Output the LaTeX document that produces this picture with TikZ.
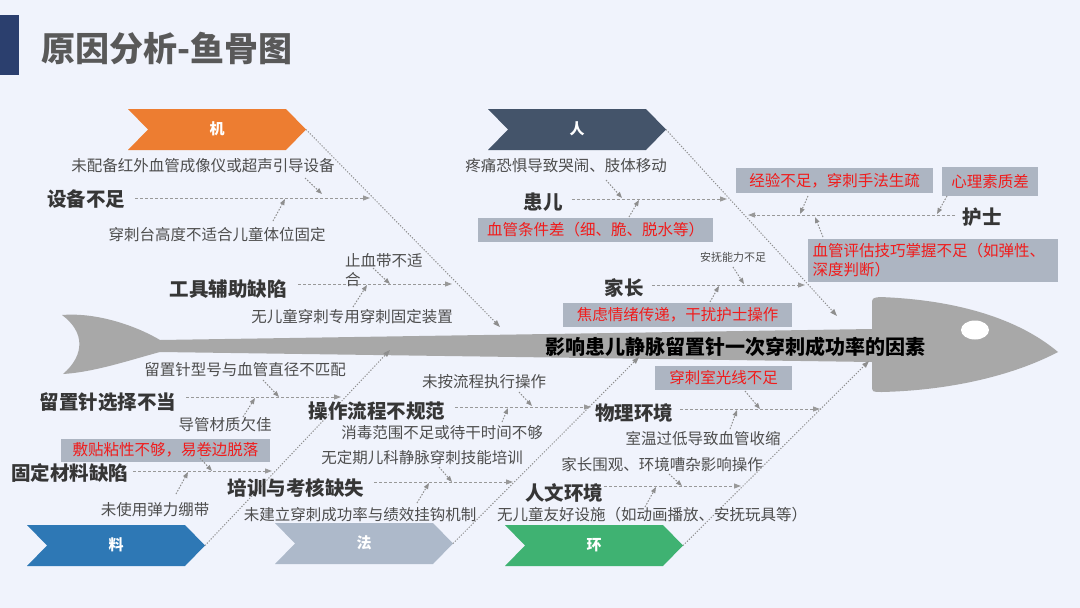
\documentclass[tikz,border=0pt]{standalone}
\usepackage{fontspec}
\setmainfont{Noto Sans CJK SC}
\usetikzlibrary{arrows.meta}
\definecolor{bg}{HTML}{F0F3FC}
\definecolor{txt}{HTML}{4D4D4D}
\definecolor{dark}{HTML}{363636}
\definecolor{fishgray}{HTML}{A8A8A8}
\definecolor{linegray}{HTML}{8E8E8E}
\definecolor{boxgray}{HTML}{ADB5C2}
\definecolor{redtxt}{HTML}{F01C1C}
\definecolor{navy}{HTML}{2B3F6E}
\definecolor{titlegray}{HTML}{595959}
\definecolor{cOrange}{HTML}{ED7D31}
\definecolor{cSlate}{HTML}{44546A}
\definecolor{cBlue}{HTML}{2E78B5}
\definecolor{cGrayBlue}{HTML}{ADB9CA}
\definecolor{cGreen}{HTML}{3FB272}
\newcommand\chev[5]{%
  \fill[#4] (#2,#3) -- ({#2+158},#3) -- ({#2+178},{#3+20.5}) -- ({#2+158},{#3+41}) -- (#2,{#3+41}) -- ({#2+20},{#3+20.5}) -- cycle;
  \node[chevtxt] (#1) at ({#2+89},{#3+20}) {#5};
  \coordinate (#1tip) at ({#2+178},{#3+20.5});}
\newcommand\tarrow[3]{%
  \coordinate (#1s) at (#2); \coordinate (#1e) at (#3);
  \draw[tinyarr] (#1s) -- (#1e);}
\newcommand\subline[3]{%
  \coordinate (#1s) at (#2); \coordinate (#1e) at (#3);
  \draw[subarr] (#1s) -- (#1e);}
\begin{document}
\begin{tikzpicture}[x=1pt,y=-1pt,
  chevtxt/.style={text=white,font=\bfseries\fontsize{15}{17}\selectfont,inner sep=0pt},
  cause/.style={text=txt,font=\fontsize{15.5}{19}\selectfont,inner sep=1pt},
  smallcause/.style={text=txt,font=\fontsize{11}{13}\selectfont,inner sep=1pt},
  cat/.style={text=dark,font=\bfseries\fontsize{19.5}{22}\selectfont,inner sep=1pt},
  redbox/.style={fill=boxgray,text=redtxt,font=\fontsize{15.5}{19}\selectfont,inner sep=0pt},
  bone/.style={draw=linegray,line width=1pt,dash pattern=on 1.2pt off 1.6pt,-{Triangle[length=7pt,width=5pt]}},
  subarr/.style={draw=linegray!90,line width=1pt,dash pattern=on 3pt off 2pt,-{Triangle[length=7pt,width=5pt]}},
  tinyarr/.style={draw=linegray,line width=1pt,dash pattern=on 1.5pt off 1.5pt,-{Triangle[length=6pt,width=4.5pt]}}]
\useasboundingbox (0,0) rectangle (1080,608);
\fill[bg] (0,0) rectangle (1080,608);
% title
\fill[navy] (0,15) rectangle (19,75);
\node[anchor=west,text=titlegray,font=\bfseries\fontsize{34}{38}\selectfont,inner sep=0pt] (title) at (41,48) {原因分析-鱼骨图};
% fish
\fill[fishgray] (62,315) .. controls (100,312) and (140,328) .. (160,340)
  -- (872,329) -- (872,305) .. controls (872,298) .. (880,297)
  .. controls (960,300) and (1020,320) .. (1058,352)
  .. controls (1020,372) and (960,390) .. (882,392)
  .. controls (872,392) .. (872,385) -- (872,362)
  -- (160,352) .. controls (130,360) and (95,372) .. (63,374)
  .. controls (85,355) and (85,332) .. (62,315) -- cycle;
\fill[white] (975,330) ellipse [x radius=14pt, y radius=9.5pt];
\node[text=black,font=\bfseries\fontsize{20}{22}\selectfont,inner sep=0pt] (effect) at (735,347) {影响患儿静脉留置针一次穿刺成功率的因素};
% chevrons
\chev{ji}{128}{109}{cOrange}{机}
\chev{ren}{488}{109}{cSlate}{人}
\chev{liao}{27}{525}{cBlue}{料}
\chev{fa}{275}{523}{cGrayBlue}{法}
\chev{huan}{505}{525}{cGreen}{环}
% main bones
\coordinate (jiE) at (500,327);
\coordinate (renE) at (837,316);
\coordinate (liaoE) at (390,350);
\coordinate (faE) at (639,357);
\coordinate (huanE) at (869,361);
\draw[bone] (jitip) -- (jiE);
\draw[bone] (rentip) -- (renE);
\draw[bone] (liaotip) -- (liaoE);
\draw[bone] (fatip) -- (faE);
\draw[bone] (huantip) -- (huanE);
% ---- 机
\node[cat] (sbbz) at (86,199) {设备不足};
\subline{l1}{135,198}{370,198}
\node[cause] (t1) at (203,166) {未配备红外血管成像仪或超声引导设备};
\tarrow{a1}{305,178}{322,194}
\node[cause] (t2) at (217,235) {穿刺台高度不适合儿童体位固定};
\tarrow{a2}{273,221}{285,199}
\node[cat] (gjfz) at (228,289) {工具辅助缺陷};
\subline{l2}{298,284}{452,284}
\node[cause,anchor=west,align=left] (t3) at (344,270.5) {止血带不适\\合};
\tarrow{a3}{373,268}{390,284}
\node[cause] (t4) at (352,317) {无儿童穿刺专用穿刺固定装置};
\tarrow{a4}{353,307}{367,285}
% ---- 人
\node[cat] (huaner) at (543,202) {患儿};
\subline{l3}{572,199}{727,199}
\node[cause] (t5) at (566,166) {疼痛恐惧导致哭闹、肢体移动};
\tarrow{a5}{606,180}{622,198}
\node[redbox,minimum width=235pt,minimum height=24pt] (r1) at (595.5,230) {血管条件差（细、脆、脱水等）};
\tarrow{a6}{629,217}{639,200}
\node[cat] (hushi) at (982,217) {护士};
\subline{l4}{955,215}{748,215}
\node[redbox,minimum width=197pt,minimum height=25pt] (r2) at (834.5,180.5) {经验不足，穿刺手法生疏};
\tarrow{a7}{808,196}{800,214}
\node[redbox,minimum width=96pt,minimum height=29pt] (r3) at (990,181.5) {心理素质差};
\tarrow{a8}{947,196}{937,214}
\node[redbox,minimum width=250pt,minimum height=43pt,text width=241pt,align=left] (r4) at (933,260.5) {血管评估技巧掌握不足（如弹性、\\深度判断）};
\tarrow{a9}{823,237}{815,217}
\node[cat] (jiazhang) at (624,288) {家长};
\subline{l5}{652,285}{805,285}
\node[smallcause] (t6) at (733,257) {安抚能力不足};
\tarrow{a10}{733,267}{744,284}
\node[redbox,minimum width=229pt,minimum height=24pt] (r5) at (677.5,315) {焦虑情绪传递，干扰护士操作};
\tarrow{a11}{710,302}{719,286}
% ---- 料
\node[cat] (lzz) at (108,402) {留置针选择不当};
\subline{l6}{186,397}{341,397}
\node[cause] (t7) at (245,370) {留置针型号与血管直径不匹配};
\tarrow{a12}{263,380}{279,397}
\node[cause] (t8) at (225,425) {导管材质欠佳};
\tarrow{a13}{243,417}{255,398}
\node[redbox,minimum width=209pt,minimum height=23pt] (r6) at (165.5,450) {敷贴粘性不够，易卷边脱落};
\node[cat] (gdcl) at (70,473) {固定材料缺陷};
\subline{l7}{133,471}{272,471}
\tarrow{a14}{200,458}{212,471}
\node[cause] (t9) at (155,510) {未使用弹力绷带};
\tarrow{a15}{176,494}{188,472}
% ---- 法
\node[cat] (czlc) at (377,411) {操作流程不规范};
\subline{l8}{455,407}{591,407}
\node[cause] (t10) at (484,382) {未按流程执行操作};
\tarrow{a16}{519,392}{532,406}
\node[cause] (t11) at (442,433) {消毒范围不足或待干时间不够};
\tarrow{a17}{502,422}{508,408}
\node[cat] (pxkh) at (296,488) {培训与考核缺失};
\subline{l9}{374,482}{513,482}
\node[cause] (t12) at (422,458) {无定期儿科静脉穿刺技能培训};
\tarrow{a18}{439,467}{452,482}
\node[cause] (t13) at (360,515) {未建立穿刺成功率与绩效挂钩机制};
\tarrow{a19}{417,503}{429,483}
% ---- 环
\node[cat] (wlhj) at (634,413) {物理环境};
\subline{l10}{680,409}{820,409}
\node[redbox,minimum width=137pt,minimum height=24pt] (r7) at (723.5,378) {穿刺室光线不足};
\tarrow{a20}{745,391}{760,409}
\node[cause] (t14) at (703,439) {室温过低导致血管收缩};
\tarrow{a21}{730,429}{737,410}
\node[cat] (rwhj) at (564,493) {人文环境};
\subline{l11}{604,486}{741,486}
\node[cause] (t15) at (662,465) {家长围观、环境嘈杂影响操作};
\tarrow{a22}{669,474}{682,486}
\node[cause] (t16) at (652,515) {无儿童友好设施（如动画播放、安抚玩具等）};
\tarrow{a23}{645,507}{656,487}
\end{tikzpicture}
\end{document}
